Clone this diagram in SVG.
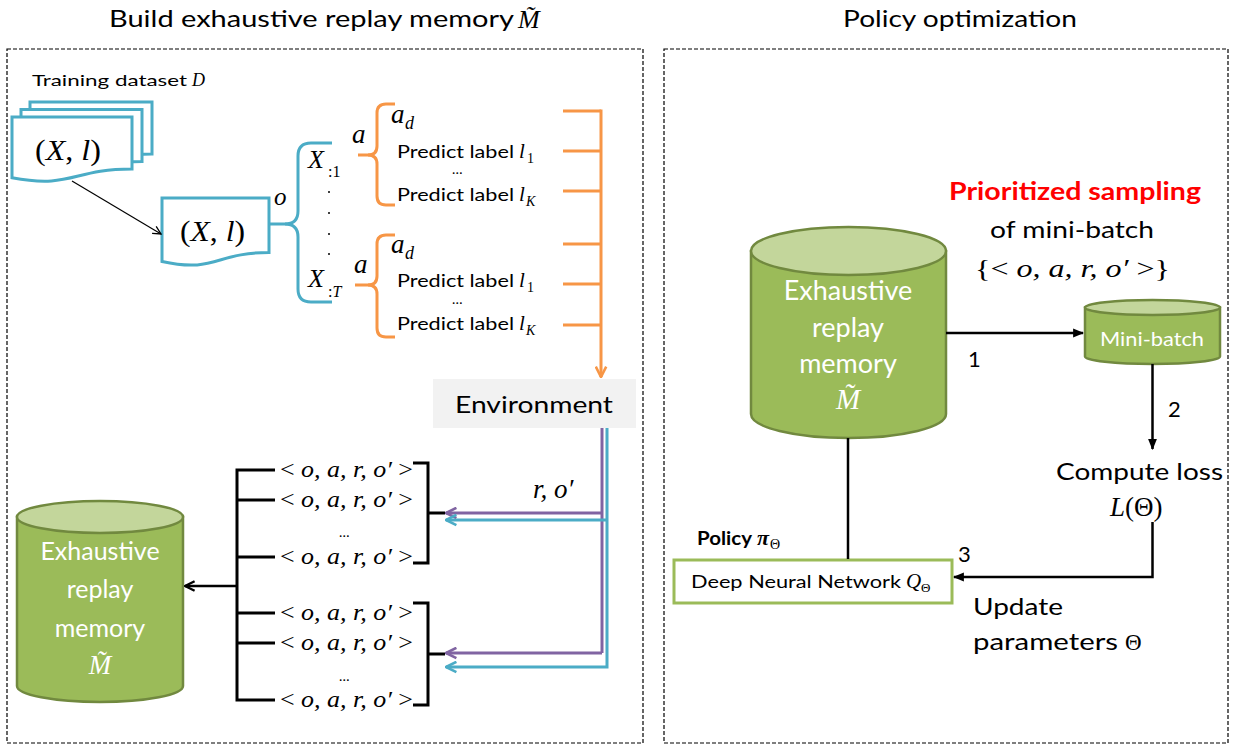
<svg xmlns="http://www.w3.org/2000/svg" width="1233" height="747" viewBox="0 0 1233 747">
  <style>
    .ui { font-family: Lato, "Open Sans", "Liberation Sans", sans-serif; fill: #000; }
    .mi { font-family: "Liberation Serif", "DejaVu Serif", serif; font-style: italic; fill: #000; }
    .mu { font-family: "Liberation Serif", "DejaVu Serif", serif; font-style: normal; fill: #000; }
    .frame { fill: none; stroke: #000; stroke-width: 1.2; stroke-dasharray: 4 2; }
    .doc { fill: #fff; stroke: #4bacc6; stroke-width: 3; }
    .bl { fill: none; stroke: #4bacc6; stroke-width: 3; }
    .or { fill: none; stroke: #f79646; stroke-width: 3; }
    .pu { fill: none; stroke: #8064a2; stroke-width: 3; }
    .bk { fill: none; stroke: #000; stroke-width: 3; }
    .cylBody { fill: #9bbb59; stroke: #71893f; stroke-width: 2.5; }
    .cylTop { fill: #c3d69b; stroke: #71893f; stroke-width: 2.5; }
    .wt { font-family: Lato, "Open Sans", "Liberation Sans", sans-serif; fill: #fff; }
    .wm { font-family: "Liberation Serif", "DejaVu Serif", serif; font-style: italic; fill: #fff; }
  </style>
  <defs>
    <marker id="openBk" viewBox="0 0 10 10" refX="9" refY="5" markerWidth="12" markerHeight="12" markerUnits="userSpaceOnUse" orient="auto">
      <path d="M1,1 L9,5 L1,9" fill="none" stroke="#000" stroke-width="2"/>
    </marker>
    <marker id="openThin" viewBox="0 0 10 10" refX="9" refY="5" markerWidth="10" markerHeight="10" markerUnits="userSpaceOnUse" orient="auto">
      <path d="M1,1 L9,5 L1,9" fill="none" stroke="#000" stroke-width="1.3"/>
    </marker>
    <marker id="openOr" viewBox="0 0 10 10" refX="9" refY="5" markerWidth="13" markerHeight="13" markerUnits="userSpaceOnUse" orient="auto">
      <path d="M1,1 L9,5 L1,9" fill="none" stroke="#f79646" stroke-width="2"/>
    </marker>
    <marker id="openPu" viewBox="0 0 10 10" refX="9" refY="5" markerWidth="13" markerHeight="13" markerUnits="userSpaceOnUse" orient="auto">
      <path d="M1,1 L9,5 L1,9" fill="none" stroke="#8064a2" stroke-width="2"/>
    </marker>
    <marker id="openBl" viewBox="0 0 10 10" refX="9" refY="5" markerWidth="13" markerHeight="13" markerUnits="userSpaceOnUse" orient="auto">
      <path d="M1,1 L9,5 L1,9" fill="none" stroke="#4bacc6" stroke-width="2"/>
    </marker>
    <marker id="solidBk" viewBox="0 0 10 10" refX="9" refY="5" markerWidth="11" markerHeight="11" markerUnits="userSpaceOnUse" orient="auto">
      <path d="M0,1 L10,5 L0,9 Z" fill="#000"/>
    </marker>
  </defs>

  <!-- panel titles and frames -->
  <g id="panel-build">
    <text class="ui" x="109" y="27" font-size="23" textLength="405" lengthAdjust="spacingAndGlyphs">Build exhaustive replay memory</text>
    <text class="mi" x="518" y="28" font-size="26">M&#771;</text>
    <rect class="frame" x="7" y="49" width="636" height="694"/>
  </g>
  <g id="panel-policy">
    <text class="ui" x="843" y="27" font-size="23" textLength="234" lengthAdjust="spacingAndGlyphs">Policy optimization</text>
    <rect class="frame" x="664" y="49" width="564" height="694"/>
  </g>

  <!-- training dataset: stacked documents -->
  <g id="dataset">
    <text class="ui" x="32" y="86" font-size="16" textLength="155" lengthAdjust="spacingAndGlyphs">Training dataset</text>
    <text class="mi" x="192" y="86" font-size="18">D</text>
    <path class="doc" d="M30,102 H152 V154 C91,154 91,174 30,162.7 Z"/>
    <path class="doc" d="M21,109.5 H142 V161.5 C81.5,161.5 81.5,181.5 21,170 Z"/>
    <path class="doc" d="M12,117 H132 V169 C72,169 72,189 12,177.7 Z"/>
    <text class="mu" x="35" y="160" font-size="29" textLength="66" lengthAdjust="spacingAndGlyphs">(<tspan class="mi">X</tspan>, <tspan class="mi">l</tspan>)</text>
  </g>

  <!-- one sample -->
  <g id="sample">
    <path class="doc" d="M162,198 H269 V252.5 C215.5,252.5 215.5,273.3 162,261.5 Z"/>
    <text class="mu" x="180" y="241" font-size="29" textLength="65" lengthAdjust="spacingAndGlyphs">(<tspan class="mi">X</tspan>, <tspan class="mi">l</tspan>)</text>
    <text class="mi" x="274" y="205" font-size="25">o</text>
  </g>

  <!-- observation columns -->
  <g id="columns">
    <text class="mi" x="308" y="168" font-size="26">X</text>
    <text class="mu" x="328" y="177" font-size="16">:1</text>
    <circle cx="329" cy="192" r="1" fill="#000"/>
    <circle cx="329" cy="213" r="1" fill="#000"/>
    <circle cx="329" cy="234" r="1" fill="#000"/>
    <circle cx="329" cy="254" r="1" fill="#000"/>
    <text class="mi" x="308" y="287" font-size="26">X</text>
    <text class="mu" x="328" y="297" font-size="16">:<tspan class="mi">T</tspan></text>
  </g>

  <!-- action sets -->
  <g id="actions-1">
    <text class="mi" x="352" y="143" font-size="27">a</text>
    <text class="mi" x="391" y="123" font-size="27">a</text>
    <text class="mi" x="405" y="129" font-size="18">d</text>
    <text class="ui" x="397" y="158" font-size="16.5" textLength="117" lengthAdjust="spacingAndGlyphs">Predict label</text>
    <text class="mi" x="519" y="158" font-size="21">l</text>
    <text class="mu" x="527" y="163" font-size="14">1</text>
    <text class="ui" x="452" y="174" font-size="14">…</text>
    <text class="ui" x="397" y="201" font-size="16.5" textLength="117" lengthAdjust="spacingAndGlyphs">Predict label</text>
    <text class="mi" x="519" y="201" font-size="21">l</text>
    <text class="mi" x="526" y="206" font-size="14">K</text>
  </g>
  <g id="actions-2">
    <text class="mi" x="354" y="273" font-size="27">a</text>
    <text class="mi" x="391" y="253" font-size="27">a</text>
    <text class="mi" x="405" y="259" font-size="18">d</text>
    <text class="ui" x="397" y="287" font-size="16.5" textLength="117" lengthAdjust="spacingAndGlyphs">Predict label</text>
    <text class="mi" x="519" y="287" font-size="21">l</text>
    <text class="mu" x="527" y="292" font-size="14">1</text>
    <text class="ui" x="452" y="304" font-size="14">…</text>
    <text class="ui" x="397" y="330" font-size="16.5" textLength="117" lengthAdjust="spacingAndGlyphs">Predict label</text>
    <text class="mi" x="519" y="330" font-size="21">l</text>
    <text class="mi" x="526" y="335" font-size="14">K</text>
  </g>

  <!-- environment -->
  <g id="environment">
    <rect x="433" y="379" width="203" height="49" fill="#f2f2f2"/>
    <text class="ui" x="455" y="413" font-size="23" textLength="158" lengthAdjust="spacingAndGlyphs">Environment</text>
  </g>

  <!-- transition tuples -->
  <g id="transitions">
    <g class="mi" font-size="24">
      <text x="280" y="477" textLength="133" lengthAdjust="spacingAndGlyphs"><tspan class="mu">&lt; </tspan>o, a, r, o′<tspan class="mu"> &gt;</tspan></text>
      <text x="280" y="507" textLength="133" lengthAdjust="spacingAndGlyphs"><tspan class="mu">&lt; </tspan>o, a, r, o′<tspan class="mu"> &gt;</tspan></text>
      <text x="280" y="564" textLength="133" lengthAdjust="spacingAndGlyphs"><tspan class="mu">&lt; </tspan>o, a, r, o′<tspan class="mu"> &gt;</tspan></text>
      <text x="280" y="620" textLength="133" lengthAdjust="spacingAndGlyphs"><tspan class="mu">&lt; </tspan>o, a, r, o′<tspan class="mu"> &gt;</tspan></text>
      <text x="280" y="650" textLength="133" lengthAdjust="spacingAndGlyphs"><tspan class="mu">&lt; </tspan>o, a, r, o′<tspan class="mu"> &gt;</tspan></text>
      <text x="280" y="707" textLength="133" lengthAdjust="spacingAndGlyphs"><tspan class="mu">&lt; </tspan>o, a, r, o′<tspan class="mu"> &gt;</tspan></text>
    </g>
    <text class="ui" x="339" y="537" font-size="14">…</text>
    <text class="ui" x="339" y="681" font-size="14">…</text>
  </g>

  <!-- replay memory (left) -->
  <g id="memory-left">
    <path class="cylBody" d="M17,517 V686 A83,16 0 0 0 183,686 V517 Z"/>
    <ellipse class="cylTop" cx="100" cy="517" rx="83" ry="16"/>
    <g text-anchor="middle" font-size="25">
      <text class="wt" x="100" y="560">Exhaustive</text>
      <text class="wt" x="100" y="598">replay</text>
      <text class="wt" x="100" y="637">memory</text>
      <text class="wm" x="100" y="674" font-size="27">M&#771;</text>
    </g>
  </g>

  <!-- replay memory (right) -->
  <g id="memory-right">
    <path class="cylBody" d="M751,251 V414 A97.5,24 0 0 0 946,414 V251 Z"/>
    <ellipse class="cylTop" cx="848.5" cy="251" rx="97.5" ry="24"/>
    <g text-anchor="middle" font-size="27">
      <text class="wt" x="848" y="300">Exhaustive</text>
      <text class="wt" x="848" y="337">replay</text>
      <text class="wt" x="848" y="373">memory</text>
      <text class="wm" x="848" y="409" font-size="29">M&#771;</text>
    </g>
  </g>

  <!-- mini-batch -->
  <g id="mini-batch">
    <path class="cylBody" d="M1085,307.5 V356.5 A67.5,7.5 0 0 0 1220,356.5 V307.5 Z"/>
    <ellipse class="cylTop" cx="1152.5" cy="307.5" rx="67.5" ry="7.5"/>
    <text class="wt" x="1100" y="346" font-size="20" textLength="104" lengthAdjust="spacingAndGlyphs">Mini-batch</text>
  </g>

  <g id="sampling-label">
    <text class="ui" x="1075" y="200" font-size="24" font-weight="bold" style="fill:#ff0000" text-anchor="middle" textLength="252" lengthAdjust="spacingAndGlyphs">Prioritized sampling</text>
    <text class="ui" x="1072" y="238" font-size="24" text-anchor="middle" textLength="164" lengthAdjust="spacingAndGlyphs">of mini-batch</text>
    <text class="mi" x="975" y="277" font-size="26" textLength="195" lengthAdjust="spacingAndGlyphs"><tspan class="mu">{&lt; </tspan>o, a, r, o′<tspan class="mu"> &gt;}</tspan></text>
  </g>

  <g id="loss">
    <text class="ui" x="1056" y="480" font-size="24" textLength="167" lengthAdjust="spacingAndGlyphs">Compute loss</text>
    <text class="mi" x="1110" y="516" font-size="27">L<tspan class="mu">(Θ)</tspan></text>
  </g>

  <g id="policy-net">
    <text class="ui" x="697" y="545" font-size="19" font-weight="bold" textLength="55" lengthAdjust="spacingAndGlyphs">Policy</text>
    <text class="mi" x="757" y="545" font-size="22" font-weight="bold">π</text>
    <text class="mu" x="770" y="549" font-size="14">Θ</text>
    <rect x="674" y="560" width="278" height="43" fill="#fff" stroke="#9bbb59" stroke-width="3"/>
    <text class="ui" x="691" y="588" font-size="17" textLength="210" lengthAdjust="spacingAndGlyphs">Deep Neural Network</text>
    <text class="mi" x="906" y="588" font-size="21">Q</text>
    <text class="mu" x="921" y="592" font-size="13">Θ</text>
  </g>

  <g id="update-label">
    <text class="ui" x="973" y="615" font-size="24" textLength="90" lengthAdjust="spacingAndGlyphs">Update</text>
    <text class="ui" x="973" y="650" font-size="24" textLength="145" lengthAdjust="spacingAndGlyphs">parameters</text>
    <text class="mu" x="1125" y="650" font-size="23">Θ</text>
  </g>

  <!-- connectors -->
  <g id="connectors">
    <!-- dataset to sample -->
    <line x1="72" y1="181" x2="161" y2="234" stroke="#000" stroke-width="1.2" marker-end="url(#openThin)"/>
    <!-- observation brace -->
    <path class="bl" d="M269,224 H285 Q298,224 298,211 V156 Q298,143 311,143 H332"/>
    <path class="bl" d="M285,224 Q298,224 298,237 V289 Q298,302 311,302 H332"/>
    <!-- action braces -->
    <path class="or" d="M358,155 H368 Q377,155 377,146 V113 Q377,104 386,104 H395"/>
    <path class="or" d="M368,155 Q377,155 377,164 V196 Q377,205 386,205 H395"/>
    <path class="or" d="M355,285 H368 Q377,285 377,276 V244 Q377,235 386,235 H395"/>
    <path class="or" d="M368,285 Q377,285 377,294 V328 Q377,337 386,337 H395"/>
    <!-- actions to environment -->
    <g class="or">
      <line x1="563" y1="111" x2="601" y2="111"/>
      <line x1="563" y1="151" x2="601" y2="151"/>
      <line x1="563" y1="191" x2="601" y2="191"/>
      <line x1="563" y1="244" x2="601" y2="244"/>
      <line x1="563" y1="284" x2="601" y2="284"/>
      <line x1="563" y1="325" x2="601" y2="325"/>
    </g>
    <path class="or" d="M601,109.5 V377" marker-end="url(#openOr)"/>
    <!-- environment feedback: reward (purple) and next observation (blue) -->
    <path class="pu" d="M602,428 V653"/>
    <path class="pu" d="M602,513 H446" marker-end="url(#openPu)"/>
    <path class="pu" d="M602,653 H446" marker-end="url(#openPu)"/>
    <path class="bl" d="M607,428 V667 H446" marker-end="url(#openBl)"/>
    <path class="bl" d="M607,520 H446" marker-end="url(#openBl)"/>
    <text class="mi" x="533" y="498" font-size="27">r, o′</text>
    <!-- tuple groups -->
    <path class="bk" d="M413,463 H428 V563 H413"/>
    <path class="bk" d="M428,513 H445"/>
    <path class="bk" d="M413,603 H428 V705 H413"/>
    <path class="bk" d="M428,654 H445"/>
    <path class="bk" d="M275,470 H237 V700 H275"/>
    <g class="bk">
      <line x1="237" y1="500" x2="275" y2="500"/>
      <line x1="237" y1="557" x2="275" y2="557"/>
      <line x1="237" y1="613" x2="275" y2="613"/>
      <line x1="237" y1="643" x2="275" y2="643"/>
    </g>
    <path d="M237,586 H185" fill="none" stroke="#000" stroke-width="2.5" marker-end="url(#openBk)"/>
    <!-- policy optimization loop -->
    <path d="M946,333 H1083" fill="none" stroke="#000" stroke-width="2.5" marker-end="url(#solidBk)"/>
    <text class="ui" x="968" y="367" font-size="22">1</text>
    <path d="M1152.5,364 V449" fill="none" stroke="#000" stroke-width="2.5" marker-end="url(#solidBk)"/>
    <text class="ui" x="1168" y="417" font-size="22">2</text>
    <path d="M1152.5,522 V577 H954" fill="none" stroke="#000" stroke-width="2.5" marker-end="url(#solidBk)"/>
    <text class="ui" x="958" y="562" font-size="22">3</text>
    <path d="M848,438 V559" fill="none" stroke="#000" stroke-width="2.5"/>
  </g>
</svg>
